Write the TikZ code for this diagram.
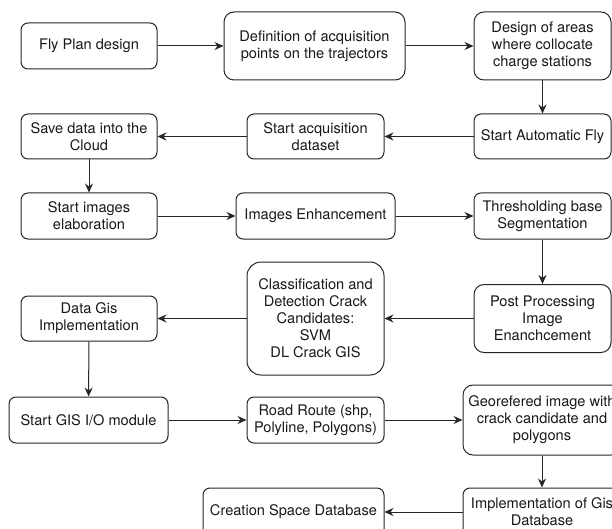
\documentclass[tikz,border=0pt]{standalone}
\usepackage{fontspec}
\setmainfont{TeX Gyre Heros}
\usetikzlibrary{arrows.meta}

\tikzset{
  box/.style={draw=black!85, line width=1pt, rounded corners=7pt, inner sep=0pt,
    align=center, font=\fontsize{14.6pt}{17pt}\selectfont, text=black!90},
  flow/.style={draw=black!85, line width=1pt,
    -{Stealth[length=9pt, width=8pt, inset=3pt]}}
}

\begin{document}
\begin{tikzpicture}[x=1pt, y=-1pt]
  \clip (0,0) rectangle (612,529);
  \fill[white] (0,0) rectangle (612,529);

  % row 1
  \node[box, minimum width=136pt, minimum height=46pt] (fly) at (89,46) {Fly Plan design};
  \node[box, rounded corners=10pt, minimum width=181pt, minimum height=68pt] (def) at (314.5,46)
    {Definition of acquisition\\points on the trajectors};
  \node[box, rounded corners=10pt, minimum width=137pt, minimum height=68pt] (design) at (542.5,46)
    {Design of areas\\where collocate\\charge stations};

  % row 2
  \node[box, minimum width=136pt, minimum height=45pt] (save) at (89,136.5)
    {Save data into the\\Cloud};
  \node[box, minimum width=137pt, minimum height=45pt] (acq) at (315.5,136.5)
    {Start acquisition\\dataset};
  \node[box, minimum width=137pt, minimum height=45pt] (auto) at (542.5,136.5)
    {Start Automatic Fly};

  % row 3
  \node[box, minimum width=136pt, minimum height=46pt] (img) at (89,216)
    {Start images\\elaboration};
  \node[box, minimum width=159pt, minimum height=46pt] (enh) at (315.5,216)
    {Images Enhancement};
  \node[box, minimum width=137pt, minimum height=46pt] (thr) at (542.5,216)
    {Thresholding base\\Segmentation};

  % row 4
  \node[box, minimum width=136pt, minimum height=45pt] (gis) at (89,318.5)
    {Data Gis\\Implementation};
  \node[box, rounded corners=14pt, minimum width=137pt, minimum height=113pt] (cls) at (315.5,318.5)
    {Classification and\\Detection Crack\\Candidates:\\SVM\\DL Crack GIS};
  \node[box, rounded corners=10pt, minimum width=137pt, minimum height=68pt] (post) at (542.5,318.5)
    {Post Processing\\Image\\Enanchcement};

  % row 5
  \node[box, minimum width=159pt, minimum height=46pt] (io) at (88.5,420)
    {Start GIS I/O module};
  \node[box, minimum width=137pt, minimum height=46pt] (road) at (315.5,420)
    {Road Route (shp,\\Polyline, Polygons)};
  \node[box, rounded corners=10pt, minimum width=158pt, minimum height=70pt] (geo) at (542,420)
    {Georefered image with\\crack candidate and\\polygons};

  % row 6
  \node[box, minimum width=181pt, minimum height=48pt] (creation) at (293.5,512)
    {Creation Space Database};
  \node[box, minimum width=158pt, minimum height=48pt] (impl) at (542,512)
    {Implementation of Gis\\Database};

  % connectors
  \draw[flow] (fly) -- (def);
  \draw[flow] (def) -- (design);
  \draw[flow] (design) -- (auto);
  \draw[flow] (auto) -- (acq);
  \draw[flow] (acq) -- (save);
  \draw[flow] (save) -- (img);
  \draw[flow] (img) -- (enh);
  \draw[flow] (enh) -- (thr);
  \draw[flow] (thr) -- (post);
  \draw[flow] (post) -- (cls);
  \draw[flow] (cls) -- (gis);
  \draw[flow] (gis) -- (io);
  \draw[flow] (io) -- (road);
  \draw[flow] (road) -- (geo);
  \draw[flow] (geo) -- (impl);
  \draw[flow] (impl) -- (creation);
\end{tikzpicture}
\end{document}
